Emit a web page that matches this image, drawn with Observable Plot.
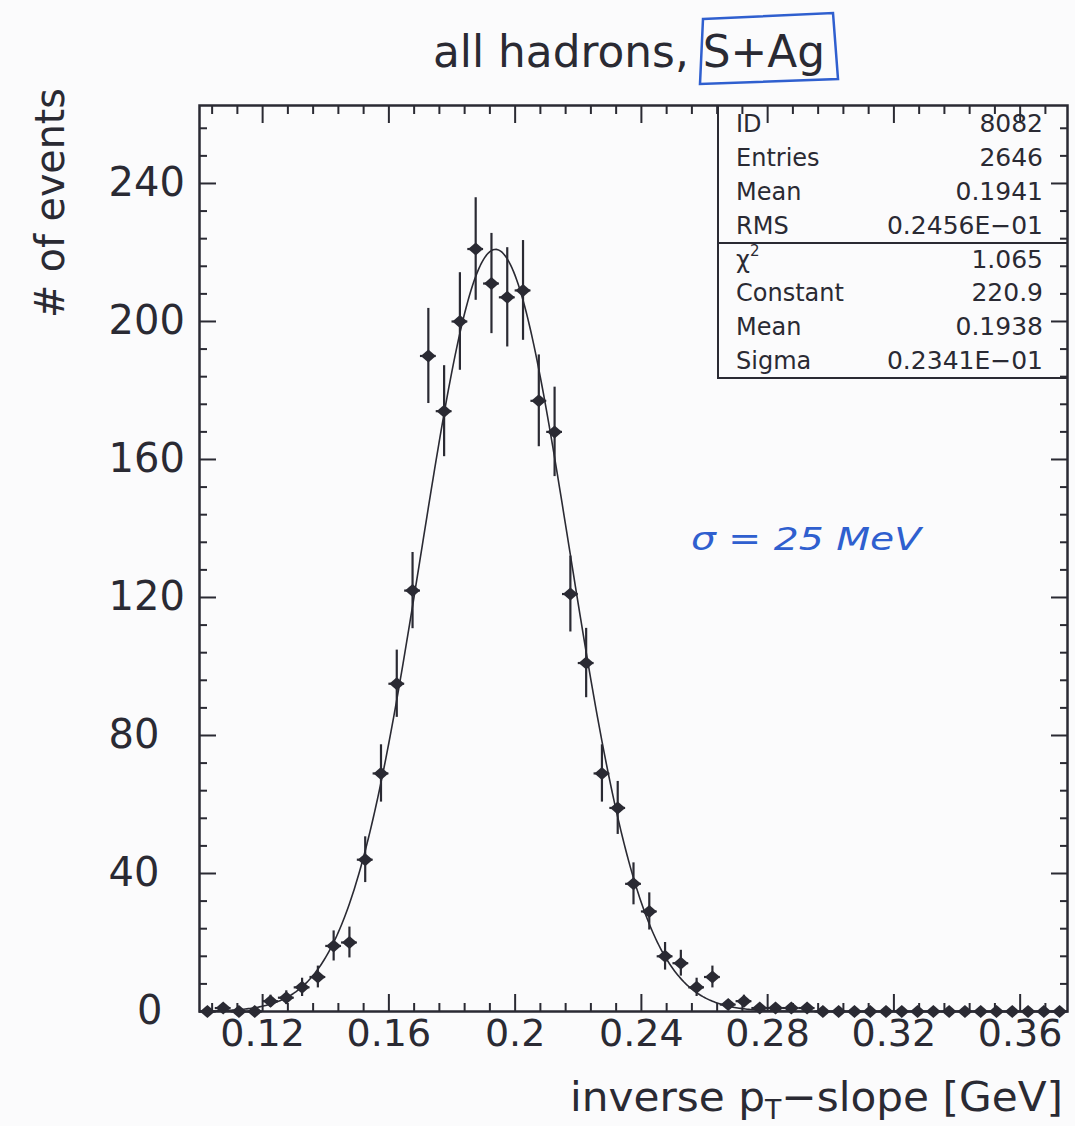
<!DOCTYPE html>
<html><head><meta charset="utf-8">
<script src="https://cdn.jsdelivr.net/npm/d3@7"></script>
<script src="https://cdn.jsdelivr.net/npm/@observablehq/plot@0.6"></script>
<style>
html,body{margin:0;padding:0;background:#fbfbfc;}
#chart{position:relative;width:1075px;height:1126px;}
svg{font-family:"DejaVu Sans",sans-serif;}
</style></head><body><div id="chart"></div>
<script>
// ---- data ----
const binCenters = [0.1025,0.1075,0.1125,0.1175,0.1225,0.1275,0.1325,0.1375,0.1425,0.1475,
  0.1525,0.1575,0.1625,0.1675,0.1725,0.1775,0.1825,0.1875,0.1925,0.1975,
  0.2025,0.2075,0.2125,0.2175,0.2225,0.2275,0.2325,0.2375,0.2425,0.2475,
  0.2525,0.2575,0.2625,0.2675,0.2725,0.2775,0.2825,0.2875,0.2925,0.2975,
  0.3025,0.3075,0.3125,0.3175,0.3225,0.3275,0.3325,0.3375,0.3425,0.3475,
  0.3525,0.3575,0.3625,0.3675,0.3725];
const counts = [0,1,0,0,3,4,7,10,19,20,
  44,69,95,122,190,174,200,221,211,207,
  209,177,168,121,101,69,59,37,29,16,
  14,7,10,2,3,1,1,1,1,0,
  0,0,0,0,0,0,0,0,0,0,
  0,0,0,0,0];
const binWidth = 0.005;
// fit parameters from the statistics box
const fitConstant = 220.9, fitMean = 0.1938, fitSigma = 0.02341;
// axis ticks
const xMajor = [0.12,0.16,0.2,0.24,0.28,0.32,0.36];
const xMinor = [0.104,0.112,0.128,0.136,0.144,0.152,0.168,0.176,0.184,0.192,0.208,0.216,0.224,0.232,0.248,0.256,0.264,0.272,0.288,0.296,0.304,0.312,0.328,0.336,0.344,0.352,0.368];
const yMajor = [0,40,80,120,160,200,240];
const yMinor = [8,16,24,32,48,56,64,72,88,96,104,112,128,136,144,152,168,176,184,192,208,216,224,232,248,256];
// statistics box
const statsTop = [["ID","8082"],["Entries","2646"],["Mean","0.1941"],["RMS","0.2456E\u221201"]];
const statsFit = [["\u03c7","1.065"],["Constant","220.9"],["Mean","0.1938"],["Sigma","0.2341E\u221201"]];

// ---- build ----
const ink = "#2a2a33";
const data = binCenters.map((x,i)=>({x, count: counts[i], err: Math.sqrt(counts[i])}));
const curve = d3.range(0.1, 0.3751, 0.0005).map(x=>({x, y: fitConstant*Math.exp(-0.5*((x-fitMean)/fitSigma)**2)}));

const star = {draw(ctx){ ctx.moveTo(-7.5,0); ctx.lineTo(0,-6.5); ctx.lineTo(7.5,0); ctx.lineTo(0,6.5); ctx.closePath(); }};

const plot = Plot.plot({
  width: 1075, height: 1126,
  marginLeft: 199, marginRight: 8, marginTop: 105, marginBottom: 115,
  style: {background: "transparent", fontFamily: "DejaVu Sans", color: ink},
  x: {domain: [0.1, 0.375], axis: null},
  y: {domain: [0, 262.6], axis: null},
  marks: [
    Plot.axisY(yMajor, {anchor: "left", tickSize: -17, text: null, strokeWidth: 2, label: null}),
    Plot.axisY(yMinor, {anchor: "left", tickSize: -8, text: null, strokeWidth: 2, label: null}),
    Plot.axisY(yMajor, {anchor: "right", tickSize: -17, text: null, strokeWidth: 2, label: null}),
    Plot.axisY(yMinor, {anchor: "right", tickSize: -8, text: null, strokeWidth: 2, label: null}),
    Plot.axisX(xMajor, {anchor: "bottom", tickSize: -17, text: null, strokeWidth: 2, label: null}),
    Plot.axisX(xMinor, {anchor: "bottom", tickSize: -8, text: null, strokeWidth: 2, label: null}),
    Plot.axisX(xMajor, {anchor: "top", tickSize: -17, text: null, strokeWidth: 2, label: null}),
    Plot.axisX(xMinor, {anchor: "top", tickSize: -8, text: null, strokeWidth: 2, label: null}),
    Plot.text(yMajor.filter(v=>v>0), {frameAnchor: "left", y: d=>d, text: d=>String(d), textAnchor: "start", dx: -91, fontSize: 40, fill: ink}),
    Plot.text(yMajor.filter(v=>v===0), {frameAnchor: "left", y: d=>d, text: d=>String(d), textAnchor: "end", dx: -37, fontSize: 40, fill: ink}),
    Plot.text(xMajor, {x: d=>d, frameAnchor: "bottom", text: d=>String(d), dy: 34, fontSize: 38, fill: ink}),
    Plot.line(curve, {x: "x", y: "y", stroke: ink, strokeWidth: 1.6, clip: true}),
    Plot.ruleX(data.filter(d=>d.count>0), {x: "x", y1: d=>d.count-d.err, y2: d=>d.count+d.err, stroke: ink, strokeWidth: 2.2}),
    Plot.ruleY(data, {y: "count", x1: d=>d.x-binWidth/2, x2: d=>d.x+binWidth/2, stroke: ink, strokeWidth: 2.2}),
    Plot.dot(data, {x: "x", y: "count", symbol: star, r: 6, fill: ink, stroke: "none"}),
    Plot.frame({stroke: ink, strokeWidth: 2.5})
  ]
});
document.getElementById("chart").appendChild(plot);

const svg = d3.select(plot);
// title
svg.append("text").attr("x", 433).attr("y", 67).attr("text-anchor", "start").attr("font-size", 44).attr("fill", ink)
  .attr("textLength", 392).attr("lengthAdjust", "spacingAndGlyphs").text("all hadrons, S+Ag");
svg.append("path").attr("d", "M703,19 L833,13 L838,79 L700,84 Z").attr("fill", "none")
  .attr("stroke", "#2f5fcf").attr("stroke-width", 2.5);
// y title
svg.append("text").attr("transform", "translate(64,203) rotate(-90)").attr("text-anchor", "middle")
  .attr("font-size", 40).attr("fill", ink).attr("textLength", 230).attr("lengthAdjust", "spacingAndGlyphs").text("# of events");
// x title
const xt = svg.append("text").attr("x", 1063).attr("y", 1111).attr("text-anchor", "end").attr("font-size", 41).attr("fill", ink)
  .attr("textLength", 493).attr("lengthAdjust", "spacingAndGlyphs");
xt.append("tspan").text("inverse p");
xt.append("tspan").attr("font-size", 26).attr("dy", 8).text("T");
xt.append("tspan").attr("dy", -8).text("\u2212slope [GeV]");
// stats box
const bx0 = 718, bxR = 1067, by0 = 105, byDiv = 243, byB = 378;
svg.append("path").attr("d", `M${bx0},${by0} L${bx0},${byB} L${bxR},${byB} M${bx0},${byDiv} L${bxR},${byDiv}`)
  .attr("fill", "none").attr("stroke", ink).attr("stroke-width", 2);
const rowsY = [125,159,193,227,261,294,328,362];
[...statsTop, ...statsFit].forEach(([k,v],i)=>{
  const t = svg.append("text").attr("x", 736).attr("y", rowsY[i]).attr("dominant-baseline", "middle")
    .attr("text-anchor", "start").attr("font-size", 24).attr("fill", ink);
  t.append("tspan").text(k);
  if (i === 4) t.append("tspan").attr("font-size", 15).attr("dy", -10).text("2");
  svg.append("text").attr("x", 1043).attr("y", rowsY[i]).attr("dominant-baseline", "middle")
    .attr("text-anchor", "end").attr("font-size", 25).attr("fill", ink).text(v);
});
// handwritten note
svg.append("text").attr("x", 691).attr("y", 550).attr("text-anchor", "start").attr("font-size", 32).attr("font-style", "italic")
  .attr("fill", "#2f5fcf").attr("textLength", 230).attr("lengthAdjust", "spacingAndGlyphs").text("\u03c3 = 25 MeV");
</script></body></html>
